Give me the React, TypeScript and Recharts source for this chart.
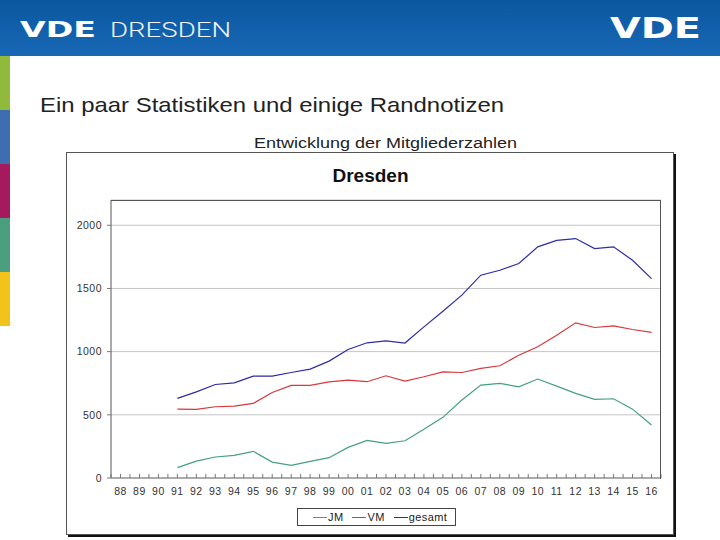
import { CartesianGrid, Line, LineChart, XAxis, YAxis } from "recharts";

// x labels, 1988 .. 2016
const years = [
  "88", "89", "90", "91", "92", "93", "94", "95", "96", "97", "98", "99",
  "00", "01", "02", "03", "04", "05", "06", "07", "08", "09", "10", "11",
  "12", "13", "14", "15", "16",
];

// Jungmitglieder
const jm = [
  null, null, null, 82, 134, 166, 179, 211, 126, 100, 132, 161,
  242, 298, 274, 295, 385, 480, 617, 735, 749, 722, 783, 727,
  670, 622, 627, 545, 419,
];

// Vollmitglieder
const vm = [
  null, null, null, 545, 543, 564, 569, 590, 677, 733, 733, 761,
  775, 762, 809, 767, 801, 840, 835, 867, 888, 972, 1038, 1130,
  1228, 1191, 1204, 1175, 1152,
];

const gesamt = [
  null, null, null, 630, 682, 740, 753, 806, 806, 835, 862, 925,
  1017, 1070, 1085, 1068, 1196, 1320, 1447, 1605, 1644, 1697, 1829, 1881,
  1895, 1816, 1829, 1723, 1578,
];

const yTicks = [0, 500, 1000, 1500, 2000];

const series = [
  { key: "jm", name: "JM", color: "#45a07e" },
  { key: "vm", name: "VM", color: "#d8383c" },
  { key: "gesamt", name: "gesamt", color: "#2c2ca6" },
];

const data = years.map((year, i) => ({
  year,
  jm: jm[i],
  vm: vm[i],
  gesamt: gesamt[i],
}));

const FONT = "'Liberation Sans', Arial, sans-serif";
const PLOT_W = 550;
const HALF = PLOT_W / years.length / 2;

const stripes = ["#8fba3c", "#3e6db0", "#a5195d", "#4b9e80", "#f1c31b"];

function XTick(props: any) {
  const { x, y, payload, index } = props;
  return (
    <g>
      {index === 0 && (
        <line x1={x - HALF} x2={x - HALF} y1={y} y2={y - 4} stroke="#777" />
      )}
      <line x1={x} x2={x} y1={y} y2={y - 4} stroke="#777" />
      <line x1={x + HALF} x2={x + HALF} y1={y} y2={y - 4} stroke="#777" />
      <text
        x={x}
        y={y + 17}
        textAnchor="middle"
        fill="#333"
        fontSize={10.5}
        letterSpacing={0.5}
        fontFamily={FONT}
      >
        {payload.value}
      </text>
    </g>
  );
}

export default function App() {
  return (
    <div
      style={{
        position: "absolute",
        left: 0,
        top: 0,
        width: 720,
        height: 540,
        background: "#fff",
        overflow: "hidden",
        fontFamily: FONT,
      }}
    >
      {/* header band */}
      <div
        style={{
          position: "absolute",
          left: 0,
          top: 0,
          width: 720,
          height: 56,
          background: "linear-gradient(#0b579f, #1868b6)",
        }}
      />
      <svg
        width={720}
        height={160}
        style={{ position: "absolute", left: 0, top: 0 }}
      >
        <text
          x={20}
          y={37}
          fontSize={21}
          fontWeight="bold"
          fontFamily="'DejaVu Sans', sans-serif"
          fill="#fff"
          textLength={76}
          lengthAdjust="spacingAndGlyphs"
        >
          VDE
        </text>
        <text
          x={110}
          y={37}
          fontSize={21}
          fontWeight={300}
          fontFamily="Roboto, sans-serif"
          fill="#f2f6ff"
          textLength={121}
          lengthAdjust="spacingAndGlyphs"
        >
          DRESDEN
        </text>
        <text
          x={610}
          y={38}
          fontSize={29}
          fontWeight="bold"
          fontFamily="'DejaVu Sans', sans-serif"
          fill="#fff"
          textLength={91}
          lengthAdjust="spacingAndGlyphs"
        >
          VDE
        </text>
        <text
          x={40}
          y={112}
          fontSize={21}
          fontFamily={FONT}
          fill="#222"
          textLength={464}
          lengthAdjust="spacingAndGlyphs"
        >
          Ein paar Statistiken und einige Randnotizen
        </text>
        <text
          x={254}
          y={148}
          fontSize={15.5}
          fontFamily={FONT}
          fill="#222"
          textLength={263}
          lengthAdjust="spacingAndGlyphs"
        >
          Entwicklung der Mitgliederzahlen
        </text>
      </svg>

      {/* coloured stripe on the left */}
      {stripes.map((c, i) => (
        <div
          key={c}
          style={{
            position: "absolute",
            left: 0,
            top: 56 + i * 54,
            width: 10,
            height: 54,
            background: c,
          }}
        />
      ))}

      {/* chart frame */}
      <div
        style={{
          position: "absolute",
          left: 66,
          top: 152,
          width: 606,
          height: 381,
          border: "1px solid #555",
          boxShadow: "2px 2px 0 #111",
          background: "#fff",
        }}
      />
      <div
        style={{
          position: "absolute",
          left: 66,
          top: 165,
          width: 609,
          textAlign: "center",
          fontSize: 19,
          fontWeight: "bold",
          color: "#111",
        }}
      >
        Dresden
      </div>

      <div style={{ position: "absolute", left: 66, top: 152 }}>
        <LineChart
          width={609}
          height={385}
          data={data}
          margin={{ top: 48, right: 14, left: 0, bottom: 34 }}
        >
          <CartesianGrid vertical={false} stroke="#c4c4c4" />
          <XAxis
            dataKey="year"
            height={25}
            tickSize={0}
            tickMargin={0}
            tickLine={false}
            interval={0}
            padding={{ left: HALF, right: HALF }}
            axisLine={{ stroke: "#777" }}
            tick={<XTick />}
          />
          <YAxis
            width={45}
            domain={[0, 2200]}
            ticks={yTicks}
            tickSize={4}
            tickMargin={5}
            tickLine={{ stroke: "#777" }}
            axisLine={{ stroke: "#555" }}
            tick={{
              fill: "#333",
              fontSize: 10.5,
              fontFamily: FONT,
              letterSpacing: 0.5,
            }}
          />
          {series.map((s) => (
            <Line
              key={s.key}
              type="linear"
              dataKey={s.key}
              name={s.name}
              stroke={s.color}
              strokeWidth={1.2}
              dot={false}
              connectNulls={false}
              isAnimationActive={false}
            />
          ))}
        </LineChart>
      </div>

      {/* plot area border (top and right edges) */}
      <div
        style={{
          position: "absolute",
          left: 111,
          top: 200,
          width: 549,
          height: 278,
          borderTop: "1px solid #555",
          borderRight: "1px solid #555",
          pointerEvents: "none",
        }}
      />

      {/* legend */}
      <div
        style={{
          position: "absolute",
          left: 297,
          top: 508,
          width: 157,
          height: 16,
          border: "1px solid #444",
          display: "flex",
          alignItems: "center",
          fontSize: 11,
          color: "#222",
        }}
      >
        {series.map((s, i) => (
          <div
            key={s.key}
            style={{
              display: "flex",
              alignItems: "center",
              marginLeft: i === 0 ? 15 : 9,
            }}
          >
            <div style={{ width: 14, height: 1, background: s.color }} />
            <span style={{ marginLeft: 1, letterSpacing: 0.4 }}>{s.name}</span>
          </div>
        ))}
      </div>
    </div>
  );
}
